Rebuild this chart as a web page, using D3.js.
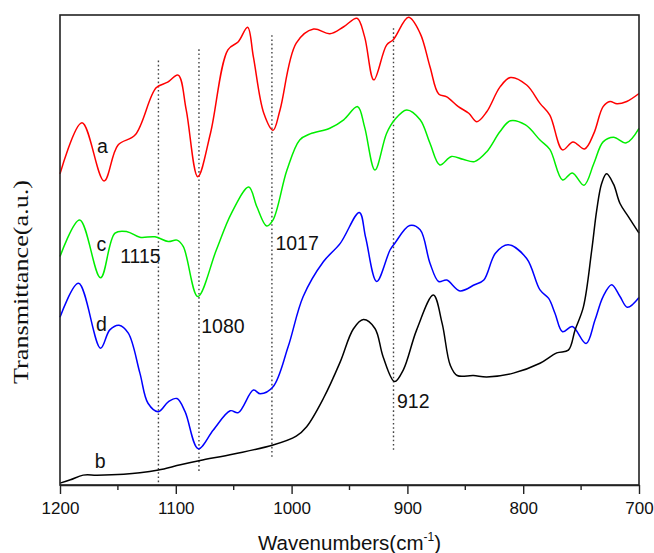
<!DOCTYPE html>
<html>
<head>
<meta charset="utf-8">
<script src="https://cdn.jsdelivr.net/npm/d3@7"></script>
<style>
  body { margin: 0; background: #fff; }
  svg text { font-family: "Liberation Sans", Arial, sans-serif; }
</style>
</head>
<body>
<svg id="chart"></svg>
<script>
// spectra as [wavenumber, transmittance (a.u., offset traces)]
const curveA = [
  [1200, 66.2], [1181, 77.1], [1162, 64.7], [1150, 72.3], [1135, 74.5], [1117, 84.5],
  [1107, 85.7], [1098, 87.2], [1091, 79.8], [1081, 65.6], [1070, 74.9], [1055, 92.6],
  [1046, 94.3], [1038, 97.4], [1033, 91.1], [1024, 79.1], [1016, 75.5], [1010, 79.8],
  [996, 94.0], [981, 97.0], [967, 96.0], [955, 97.5], [943.5, 99.3], [937, 95.4],
  [929, 86.2], [918, 93.6], [912, 94.8], [899, 99.5], [889, 96.1], [880.5, 89.0],
  [873, 83.2], [866, 82.6], [856, 80.5], [847, 79.1], [840, 77.3], [831.5, 79.4],
  [820, 84.7], [811, 86.7], [797, 85.1], [785.5, 81.2], [777, 78.7], [766, 71.3],
  [757, 73.0], [747, 71.5], [739, 74.8], [731, 80.5], [725, 81.6], [719, 81.1],
  [710.6, 81.6], [700, 83.3]
];
const curveC = [
  [1200, 48.6], [1183, 56.4], [1165, 44.1], [1152.5, 53.6], [1142, 53.9], [1131, 52.7],
  [1118, 52.8], [1106.5, 51.8], [1099, 52.1], [1093.5, 50.7], [1081, 40.1], [1065, 50.0],
  [1052, 57.8], [1037, 63.4], [1030, 59.2], [1021.5, 55.1], [1016, 56.4], [1004, 67.0],
  [993, 73.4], [984, 74.7], [967, 75.9], [955, 77.7], [943, 80.5], [937, 76.2],
  [928, 67.0], [918, 74.8], [911, 77.7], [900.6, 79.8], [889, 77.7], [880.5, 72.7],
  [872, 68.1], [862, 69.9], [852, 69.3], [842, 68.8], [831.5, 70.9], [820, 75.2],
  [811, 77.5], [798, 76.6], [785.5, 73.4], [777, 71.4], [766, 64.9], [757.6, 66.4],
  [747.5, 63.8], [739, 68.4], [731, 73.0], [722, 74.0], [711, 72.8], [700, 75.9]
];
const curveD = [
  [1200, 35.7], [1184, 42.9], [1165, 29.1], [1157, 33.0], [1149, 34.0], [1141, 32.3],
  [1131, 23.8], [1124, 17.4], [1115, 15.6], [1106.5, 17.7], [1099, 18.4], [1092, 15.6],
  [1080.6, 7.7], [1067.6, 11.7], [1053, 15.8], [1046, 15.4], [1033, 20.2], [1027, 19.4],
  [1016, 20.9], [1003, 29.4], [990, 40.1], [972.6, 47.5], [958, 51.4], [941.5, 58.0],
  [936, 52.6], [926.5, 43.3], [915, 50.0], [911, 51.4], [898, 55.2], [889, 54.3],
  [880.5, 47.2], [873, 43.3], [866, 43.6], [854.6, 41.3], [842, 42.6], [834, 43.6],
  [824, 49.3], [813, 51.1], [797, 48.2], [785.5, 41.5], [778, 39.7], [772.5, 36.5],
  [766, 32.6], [757.6, 33.7], [745.7, 30.1], [738, 35.1], [731, 40.1], [723.6, 42.6],
  [716.4, 40.1], [710, 37.8], [700, 39.9]
];
const curveB = [
  [1200, 0.4], [1191, 1.1], [1180, 2.1], [1168, 2.1], [1145, 2.3], [1131, 2.6],
  [1115, 3.2], [1096, 4.3], [1079, 5.2], [1050, 6.6], [1016, 8.5], [996, 10.4],
  [987, 12.4], [972.6, 18.4], [958, 26.2], [946.7, 33.2], [938, 35.2], [928, 33.3],
  [921, 27.3], [911, 22.0], [903.5, 24.5], [892, 33.0], [877.6, 40.4], [870, 34.4],
  [863, 25.5], [857, 23.3], [843, 23.3], [831.5, 23.0], [808.5, 23.8], [785.5, 25.9],
  [771, 28.1], [761, 28.7], [755.2, 33.0], [748, 37.9], [740.8, 50.0], [736.5, 58.5],
  [732.2, 64.2], [728, 66.2], [722, 64.0], [716.4, 59.9], [709.2, 57.1], [700, 53.6]
];

const seriesColors = ['#ff0000', '#00ee00', '#0000ff', '#000000'];

// dotted marker lines: [wavenumber, top, bottom]
const markers = [[1115, 90.3, 0], [1080, 92.7, 2.8], [1017, 95.7, 5.7], [912, 97.2, 7.3]];

// text labels: [text, wavenumber, value]
const labels = [
  ['a', 1168, 70.6], ['c', 1168.5, 49.8], ['d', 1169, 32.8], ['b', 1170, 3.6],
  ['1115', 1148, 47.2], ['1017', 1014, 50.0], ['1080', 1078, 32.3], ['912', 909, 16.4]
];

const xTicks = [1200, 1100, 1000, 900, 800, 700];
const xMinor = [1150, 1050, 950, 850, 750];

const width = 654, height = 553;
const margin = { top: 15, right: 15, bottom: 68, left: 60 };
const w = width - margin.left - margin.right;
const h = height - margin.top - margin.bottom;

const svg = d3.select('#chart')
  .attr('width', width)
  .attr('height', height);

const g = svg.append('g')
  .attr('transform', `translate(${margin.left},${margin.top})`);

const x = d3.scaleLinear().domain([1200, 700]).range([0, w]);
const y = d3.scaleLinear().domain([0, 100]).range([h, 0]);

// dotted lines
g.selectAll('.marker')
  .data(markers)
  .enter()
  .append('line')
  .attr('class', 'marker')
  .attr('x1', d => x(d[0]))
  .attr('x2', d => x(d[0]))
  .attr('y1', d => y(d[1]))
  .attr('y2', d => y(d[2]))
  .attr('stroke', '#444')
  .attr('stroke-width', 1.4)
  .attr('stroke-dasharray', '1.6,2.6');

const line = d3.line()
  .x(d => x(d[0]))
  .y(d => y(d[1]))
  .curve(d3.curveCatmullRom.alpha(0.5));

[curveA, curveC, curveD, curveB].forEach((data, i) => {
  g.append('path')
    .datum(data)
    .attr('fill', 'none')
    .attr('stroke', seriesColors[i])
    .attr('stroke-width', 1.5)
    .attr('d', line);
});

// labels
g.selectAll('.lbl')
  .data(labels)
  .enter()
  .append('text')
  .attr('class', 'lbl')
  .attr('x', d => x(d[1]))
  .attr('y', d => y(d[2]))
  .style('font-size', '19.5px')
  .attr('fill', '#111')
  .text(d => d[0]);

// frame
g.append('rect')
  .attr('width', w)
  .attr('height', h)
  .attr('fill', 'none')
  .attr('stroke', '#222')
  .attr('stroke-width', 1.6);

// bottom axis, ticks outward
const xAxis = g.append('g')
  .attr('transform', `translate(0,${h})`)
  .call(d3.axisBottom(x).tickValues(xTicks).tickSizeInner(9).tickSizeOuter(0).tickPadding(8).tickFormat(d3.format('d')));
xAxis.select('.domain').attr('stroke', '#222').attr('stroke-width', 1.6);
xAxis.selectAll('.tick line').attr('stroke', '#222').attr('stroke-width', 1.4);
xAxis.selectAll('.tick text')
  .style('font-size', '17px')
  .attr('fill', '#111');

g.append('g')
  .attr('transform', `translate(0,${h})`)
  .selectAll('line')
  .data(xMinor)
  .enter()
  .append('line')
  .attr('x1', d => x(d))
  .attr('x2', d => x(d))
  .attr('y1', 0)
  .attr('y2', 5)
  .attr('stroke', '#222')
  .attr('stroke-width', 1.4);

// axis titles
const xt = svg.append('text')
  .attr('x', margin.left + w / 2)
  .attr('y', 550)
  .attr('text-anchor', 'middle')
  .style('font-size', '20.5px')
  .attr('fill', '#111');
xt.append('tspan').text('Wavenumbers(cm');
xt.append('tspan').attr('dy', -9).style('font-size', '12px').text('-1');
xt.append('tspan').attr('dy', 9).text(')');

svg.append('text')
  .attr('transform', `translate(28,${282}) rotate(-90)`)
  .attr('text-anchor', 'middle')
  .style('font-family', '"Liberation Serif", "Times New Roman", serif')
  .style('font-size', '20px')
  .attr('textLength', 204)
  .attr('lengthAdjust', 'spacingAndGlyphs')
  .attr('fill', '#111')
  .text('Transmittance(a.u.)');
</script>
</body>
</html>
